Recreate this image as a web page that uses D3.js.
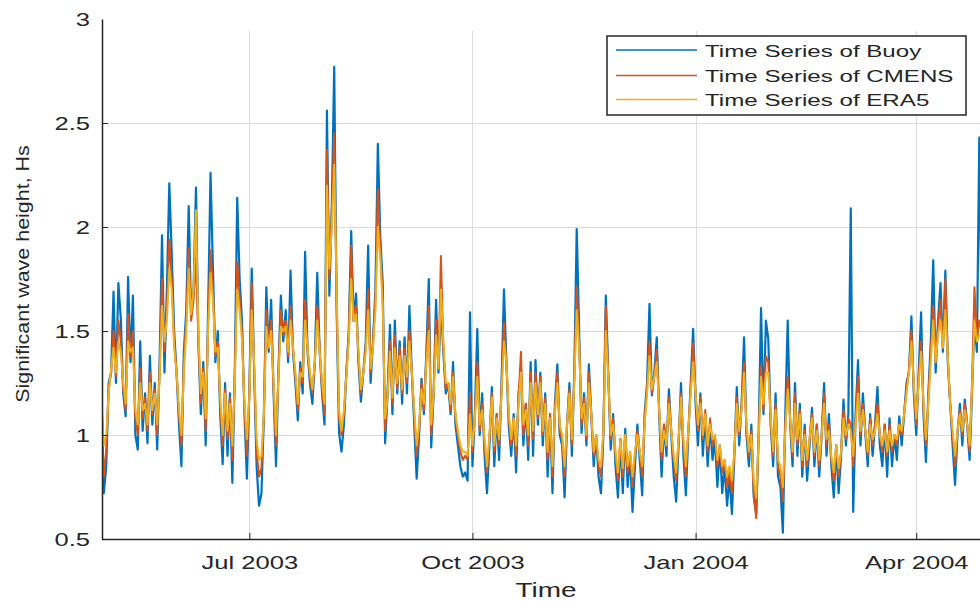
<!DOCTYPE html>
<html>
<head>
<meta charset="utf-8">
<script src="https://cdn.jsdelivr.net/npm/d3@7"></script>
<style>
  html, body { margin: 0; padding: 0; background: #ffffff; }
  svg { display: block; font-family: "Liberation Sans", Arial, Helvetica, sans-serif; }
</style>
</head>
<body>
<svg id="chart" width="980" height="601"></svg>
<script>
// Daily significant wave height (m), first value on 1 May 2003
const startDate = new Date(2003, 4, 1);

const buoy = [
  1.22, 0.72, 0.85, 1.25, 1.30, 1.69, 1.25, 1.73, 1.56, 1.20,
  1.09, 1.76, 1.35, 1.67, 1.00, 0.93, 1.45, 1.02, 1.20, 0.96,
  1.38, 1.05, 1.25, 0.93, 1.35, 1.96, 1.30, 1.70, 2.21, 1.87,
  1.50, 1.30, 1.05, 0.85, 1.40, 1.60, 2.10, 1.57, 1.70, 2.19,
  1.45, 1.10, 1.35, 0.95, 1.60, 2.26, 1.80, 1.35, 1.50, 1.10,
  0.86, 1.25, 0.90, 1.20, 0.77, 1.30, 2.14, 1.75, 1.54, 1.10,
  0.79, 1.20, 1.80, 1.30, 0.85, 0.66, 0.72, 1.09, 1.71, 1.40,
  1.65, 1.20, 0.85, 1.30, 1.67, 1.45, 1.60, 1.35, 1.79, 1.40,
  1.25, 1.07, 1.35, 1.20, 1.88, 1.40, 1.25, 1.15, 1.35, 1.78,
  1.40, 1.20, 1.05, 2.56, 1.67, 2.10, 2.77, 1.60, 1.01, 0.92,
  1.05, 1.30, 1.50, 1.98, 1.55, 1.68, 1.35, 1.16, 1.30, 1.45,
  1.91, 1.25, 1.45, 1.70, 2.40, 1.95, 1.73, 0.96, 1.20, 1.53,
  1.10, 1.55, 1.20, 1.45, 1.15, 1.47, 1.20, 1.62, 1.30, 1.05,
  0.79, 1.00, 1.27, 1.10, 1.40, 1.75, 0.94, 1.20, 1.65, 1.30,
  1.63, 1.40, 1.20, 1.25, 1.10, 1.35, 1.05, 0.95, 0.85, 0.80,
  0.82, 0.78, 1.59, 0.85, 1.10, 1.51, 1.00, 1.20, 0.90, 0.72,
  0.95, 1.23, 0.85, 1.10, 0.88, 1.25, 1.70, 1.35, 1.04, 0.90,
  1.10, 0.82, 1.20, 1.30, 0.95, 1.15, 0.88, 1.35, 0.90, 1.36,
  1.05, 1.30, 0.95, 1.20, 0.80, 1.10, 0.72, 1.15, 1.34, 1.00,
  0.95, 0.70, 1.05, 1.25, 0.90, 1.30, 1.99, 1.50, 1.01, 1.20,
  0.95, 1.34, 1.10, 0.85, 1.00, 0.80, 0.72, 1.00, 1.67, 1.30,
  0.93, 1.10, 0.85, 0.70, 0.98, 0.72, 1.03, 0.75, 0.90, 0.63,
  0.85, 1.05, 0.88, 0.71, 1.10, 1.25, 1.63, 1.19, 1.30, 1.47,
  1.10, 0.80, 1.05, 0.90, 1.22, 1.00, 0.80, 0.68, 0.95, 1.25,
  0.90, 0.71, 1.00, 1.25, 1.51, 1.15, 0.95, 1.20, 0.90, 1.10,
  0.85, 1.05, 0.88, 0.98, 0.75, 0.95, 0.72, 0.85, 0.66, 0.80,
  0.62, 0.90, 1.23, 0.95, 1.15, 1.47, 1.00, 0.85, 1.05, 0.70,
  0.62, 1.00, 1.61, 1.10, 1.55, 1.46, 1.05, 0.85, 1.20, 0.80,
  0.75, 0.53, 1.10, 1.55, 1.05, 0.85, 1.25, 0.90, 1.15, 0.80,
  1.05, 0.78, 0.95, 1.13, 0.85, 1.05, 0.80, 1.00, 1.25, 0.90,
  1.10, 0.85, 0.70, 0.95, 0.72, 0.90, 1.17, 0.95, 1.10, 2.09,
  0.63, 1.10, 1.36, 0.95, 1.20, 1.01, 0.85, 1.10, 0.90, 1.05,
  1.23, 0.95, 0.85, 1.05, 0.80, 1.08, 0.85, 1.00, 0.88, 1.09,
  0.95, 1.10, 1.25, 1.30, 1.57, 1.20, 1.00, 1.30, 1.59, 1.10,
  0.87, 1.20, 1.45, 1.84, 1.30, 1.55, 1.73, 1.40, 1.79, 1.35,
  1.15, 0.95, 0.76, 1.00, 1.15, 0.95, 1.17, 1.05, 0.88, 1.20,
  1.55, 1.40, 2.43, 1.50, 1.45
];

const cmens = [
  1.18, 0.80, 0.92, 1.22, 1.30, 1.50, 1.28, 1.55, 1.45, 1.22,
  1.12, 1.58, 1.38, 1.50, 1.08, 1.00, 1.32, 1.08, 1.18, 1.02,
  1.30, 1.10, 1.22, 1.00, 1.30, 1.75, 1.40, 1.60, 1.94, 1.75,
  1.45, 1.30, 1.10, 0.95, 1.35, 1.55, 1.90, 1.55, 1.65, 1.85,
  1.45, 1.15, 1.32, 1.02, 1.55, 1.89, 1.70, 1.38, 1.45, 1.15,
  0.95, 1.22, 0.98, 1.18, 0.88, 1.28, 1.83, 1.65, 1.48, 1.12,
  0.90, 1.20, 1.73, 1.32, 0.92, 0.80, 0.84, 1.10, 1.60, 1.42,
  1.55, 1.22, 0.95, 1.30, 1.60, 1.48, 1.55, 1.38, 1.62, 1.42,
  1.28, 1.12, 1.32, 1.25, 1.65, 1.42, 1.28, 1.20, 1.35, 1.62,
  1.42, 1.22, 1.10, 2.37, 1.75, 2.05, 2.45, 1.65, 1.08, 1.00,
  1.10, 1.30, 1.48, 1.91, 1.55, 1.62, 1.38, 1.20, 1.30, 1.42,
  1.70, 1.30, 1.45, 1.65, 2.18, 1.90, 1.65, 1.02, 1.20, 1.45,
  1.15, 1.48, 1.22, 1.42, 1.20, 1.42, 1.25, 1.50, 1.30, 1.10,
  0.90, 1.02, 1.25, 1.12, 1.38, 1.62, 1.00, 1.20, 1.55, 1.32,
  1.86, 1.42, 1.22, 1.25, 1.12, 1.30, 1.08, 1.00, 0.92, 0.88,
  0.90, 0.88, 1.20, 0.92, 1.10, 1.35, 1.02, 1.15, 0.95, 0.82,
  0.98, 1.20, 0.92, 1.10, 0.95, 1.22, 1.54, 1.35, 1.08, 0.95,
  1.08, 0.90, 1.18, 1.40, 1.00, 1.15, 0.95, 1.30, 0.98, 1.30,
  1.08, 1.28, 1.00, 1.18, 0.88, 1.10, 0.80, 1.12, 1.30, 1.02,
  0.98, 0.80, 1.05, 1.22, 0.95, 1.28, 1.71, 1.45, 1.05, 1.18,
  0.98, 1.30, 1.10, 0.90, 1.00, 0.85, 0.80, 1.02, 1.62, 1.28,
  0.98, 1.08, 0.90, 0.78, 0.98, 0.80, 1.00, 0.82, 0.92, 0.75,
  0.90, 1.02, 0.92, 0.80, 1.08, 1.22, 1.45, 1.20, 1.28, 1.41,
  1.12, 0.88, 1.05, 0.95, 1.18, 1.02, 0.88, 0.78, 0.98, 1.20,
  0.95, 0.80, 1.02, 1.22, 1.44, 1.20, 1.02, 1.18, 0.98, 1.12,
  0.92, 1.08, 0.95, 1.00, 0.85, 0.95, 0.82, 0.88, 0.75, 0.82,
  0.72, 0.92, 1.18, 1.00, 1.15, 1.35, 1.02, 0.90, 1.02, 0.72,
  0.60, 0.98, 1.33, 1.12, 1.38, 1.35, 1.05, 0.90, 1.15, 0.85,
  0.80, 0.68, 1.05, 1.28, 1.08, 0.90, 1.20, 0.95, 1.12, 0.85,
  1.02, 0.85, 0.98, 1.10, 0.90, 1.05, 0.85, 1.00, 1.20, 0.95,
  1.05, 0.88, 0.78, 0.95, 0.80, 0.92, 1.12, 0.98, 1.08, 1.05,
  0.85, 1.08, 1.28, 1.00, 1.15, 1.02, 0.90, 1.08, 0.95, 1.05,
  1.15, 1.00, 0.92, 1.05, 0.90, 1.05, 0.92, 1.00, 0.95, 1.05,
  1.00, 1.10, 1.22, 1.32, 1.50, 1.22, 1.05, 1.28, 1.45, 1.12,
  0.95, 1.18, 1.40, 1.62, 1.35, 1.52, 1.65, 1.42, 1.75, 1.38,
  1.15, 1.00, 0.85, 1.02, 1.12, 1.00, 1.15, 1.05, 0.92, 1.25,
  1.71, 1.45, 1.55, 1.50, 1.45
];

const era5 = [
  1.15, 0.95, 1.00, 1.20, 1.32, 1.42, 1.30, 1.45, 1.40, 1.25,
  1.15, 1.45, 1.40, 1.42, 1.12, 1.05, 1.25, 1.12, 1.15, 1.05,
  1.25, 1.12, 1.20, 1.05, 1.28, 1.62, 1.45, 1.55, 1.80, 1.70,
  1.42, 1.30, 1.12, 1.00, 1.30, 1.50, 1.80, 1.58, 1.70, 2.08,
  1.50, 1.20, 1.30, 1.08, 1.50, 1.78, 1.65, 1.40, 1.42, 1.18,
  1.00, 1.20, 1.02, 1.15, 0.95, 1.25, 1.70, 1.60, 1.45, 1.15,
  0.98, 1.18, 1.60, 1.35, 0.98, 0.88, 0.90, 1.10, 1.52, 1.42,
  1.50, 1.25, 1.00, 1.28, 1.52, 1.50, 1.52, 1.40, 1.55, 1.42,
  1.30, 1.15, 1.30, 1.28, 1.55, 1.42, 1.30, 1.22, 1.35, 1.55,
  1.40, 1.25, 1.15, 2.20, 1.80, 2.00, 2.30, 1.70, 1.12, 1.02,
  1.12, 1.28, 1.45, 1.75, 1.55, 1.58, 1.40, 1.22, 1.30, 1.40,
  1.60, 1.32, 1.42, 1.60, 2.00, 1.85, 1.62, 1.08, 1.18, 1.40,
  1.18, 1.42, 1.25, 1.38, 1.22, 1.38, 1.28, 1.45, 1.30, 1.12,
  0.95, 1.05, 1.22, 1.15, 1.35, 1.50, 1.05, 1.20, 1.48, 1.32,
  1.70, 1.45, 1.25, 1.25, 1.15, 1.28, 1.10, 1.02, 0.95, 0.92,
  0.92, 0.90, 1.10, 0.95, 1.08, 1.28, 1.05, 1.12, 0.98, 0.85,
  1.00, 1.18, 0.95, 1.08, 0.98, 1.20, 1.45, 1.35, 1.10, 0.98,
  1.08, 0.95, 1.15, 1.30, 1.05, 1.12, 1.00, 1.25, 1.02, 1.25,
  1.10, 1.25, 1.02, 1.15, 0.92, 1.08, 0.85, 1.10, 1.25, 1.05,
  1.00, 0.85, 1.05, 1.20, 0.98, 1.25, 1.60, 1.42, 1.08, 1.15,
  1.00, 1.25, 1.10, 0.92, 1.00, 0.88, 0.85, 1.02, 1.50, 1.28,
  1.00, 1.05, 0.92, 0.82, 0.98, 0.84, 1.00, 0.85, 0.92, 0.80,
  0.92, 1.00, 0.92, 0.85, 1.05, 1.20, 1.38, 1.22, 1.28, 1.35,
  1.12, 0.92, 1.02, 0.95, 1.15, 1.02, 0.90, 0.82, 0.98, 1.18,
  0.98, 0.85, 1.02, 1.20, 1.35, 1.20, 1.05, 1.15, 1.00, 1.10,
  0.95, 1.05, 0.98, 1.00, 0.88, 0.95, 0.85, 0.88, 0.80, 0.85,
  0.78, 0.92, 1.15, 1.02, 1.12, 1.30, 1.05, 0.92, 1.00, 0.78,
  0.70, 0.98, 1.28, 1.15, 1.30, 1.30, 1.08, 0.92, 1.12, 0.88,
  0.85, 0.75, 1.02, 1.22, 1.08, 0.92, 1.15, 0.98, 1.10, 0.88,
  1.00, 0.88, 0.98, 1.08, 0.92, 1.02, 0.88, 1.00, 1.15, 0.98,
  1.02, 0.90, 0.82, 0.95, 0.84, 0.92, 1.08, 1.00, 1.05, 1.02,
  0.90, 1.05, 1.20, 1.02, 1.12, 1.02, 0.92, 1.05, 0.98, 1.02,
  1.10, 1.00, 0.95, 1.02, 0.92, 1.02, 0.95, 1.00, 0.98, 1.05,
  1.02, 1.10, 1.20, 1.30, 1.45, 1.25, 1.08, 1.25, 1.40, 1.15,
  0.98, 1.15, 1.35, 1.55, 1.35, 1.48, 1.55, 1.42, 1.60, 1.38,
  1.15, 1.02, 0.90, 1.02, 1.10, 1.02, 1.12, 1.05, 0.95, 1.22,
  1.55, 1.45, 1.48, 1.48, 1.45
];

const seriesNames = ["Time Series of Buoy", "Time Series of CMENS", "Time Series of ERA5"];
const seriesColors = ["#0072BD", "#D95319", "#EDB120"];
const yTicks = [0.5, 1, 1.5, 2, 2.5, 3];
const xTickDates = [new Date(2003, 6, 1), new Date(2003, 9, 1), new Date(2004, 0, 1), new Date(2004, 3, 1)];
const xTickLabels = ["Jul 2003", "Oct 2003", "Jan 2004", "Apr 2004"];
const yLabel = "Significant wave height, Hs";
const xLabel = "Time";

const svg = d3.select("#chart");
const ink = "#262626";

const plot = { left: 102, right: 989, top: 19, bottom: 539 };

const x = d3.scaleTime()
  .domain([startDate, new Date(2004, 4, 1)])
  .range([101.4, plot.right]);
const y = d3.scaleLinear().domain([0.5, 3]).range([plot.bottom, plot.top]);

// grid
const grid = svg.append("g").attr("stroke", "#dcdcdc").attr("stroke-width", 1);
grid.selectAll("line.h").data(yTicks.filter(v => v > 0.5 && v < 3)).join("line")
  .attr("x1", plot.left).attr("x2", 980)
  .attr("y1", d => Math.round(y(d)) + 0.5).attr("y2", d => Math.round(y(d)) + 0.5);
grid.selectAll("line.v").data(xTickDates).join("line")
  .attr("x1", d => Math.round(x(d)) + 0.5).attr("x2", d => Math.round(x(d)) + 0.5)
  .attr("y1", 31).attr("y2", plot.bottom);

// series
svg.append("defs").append("clipPath").attr("id", "plotClip")
  .append("rect").attr("x", plot.left).attr("y", plot.top)
  .attr("width", plot.right - plot.left).attr("height", plot.bottom - plot.top);

const line = d3.line()
  .x((d, i) => x(d3.timeDay.offset(startDate, i)))
  .y(d => y(d));

const seriesWidths = [2.2, 2.0, 2.0];
const lines = svg.append("g").attr("clip-path", "url(#plotClip)");
[buoy, cmens, era5].forEach((s, k) => {
  lines.append("path")
    .datum(s)
    .attr("fill", "none")
    .attr("stroke", seriesColors[k])
    .attr("stroke-width", seriesWidths[k])
    .attr("stroke-linejoin", "round")
    .attr("d", line);
});

// axes
const yAxis = d3.axisLeft(y).tickValues(yTicks).tickSize(-6).tickSizeOuter(0)
  .tickFormat(d => String(d));
const gy = svg.append("g").attr("transform", `translate(${plot.left},0)`).call(yAxis);
gy.select(".domain").attr("stroke", ink).attr("stroke-width", 1.5);
gy.selectAll(".tick line").attr("stroke", ink).attr("stroke-width", 1);
gy.selectAll(".tick").filter(d => d === 0.5 || d === 3).select("line").remove();
gy.selectAll(".tick text")
  .attr("x", 0).attr("dy", null)
  .attr("text-anchor", "end")
  .attr("fill", ink)
  .style("font-size", "17.5px")
  .attr("transform", "translate(-12,6.5) scale(1.46,1)");

const xAxis = d3.axisBottom(x).tickValues(xTickDates).tickSize(-6).tickSizeOuter(0)
  .tickFormat((d, i) => xTickLabels[i]);
const gx = svg.append("g").attr("transform", `translate(0,${plot.bottom})`).call(xAxis);
gx.select(".domain").attr("stroke", ink).attr("stroke-width", 1.5);
gx.selectAll(".tick line").attr("stroke", ink).attr("stroke-width", 1);
gx.selectAll(".tick text")
  .attr("y", 0).attr("dy", null)
  .attr("text-anchor", "middle")
  .attr("fill", ink)
  .style("font-size", "17.5px")
  .attr("transform", "translate(0,30) scale(1.46,1)");
svg.selectAll(".tick text").attr("font-family", null);

// axis titles
svg.append("text")
  .attr("transform", "translate(546,597) scale(1.4,1)")
  .attr("text-anchor", "middle")
  .attr("fill", ink)
  .style("font-size", "20px")
  .text(xLabel);

svg.append("text")
  .attr("transform", "translate(29,274) rotate(-90) scale(1.13,1)")
  .attr("text-anchor", "middle")
  .attr("fill", ink)
  .style("font-size", "19px")
  .text(yLabel);

// legend
const legend = svg.append("g");
legend.append("rect")
  .attr("x", 607).attr("y", 36).attr("width", 359).attr("height", 79)
  .attr("fill", "#ffffff").attr("stroke", ink).attr("stroke-width", 1.5);
const rowY = [50, 75.5, 99.5];
seriesNames.forEach((name, k) => {
  legend.append("line")
    .attr("x1", 616).attr("x2", 697)
    .attr("y1", rowY[k]).attr("y2", rowY[k])
    .attr("stroke", seriesColors[k]).attr("stroke-width", 1.6);
  legend.append("text")
    .attr("transform", `translate(705,${rowY[k] + 6.5}) scale(1.42,1)`)
    .attr("fill", ink)
    .style("font-size", "17px")
    .text(name);
});
</script>
</body>
</html>
